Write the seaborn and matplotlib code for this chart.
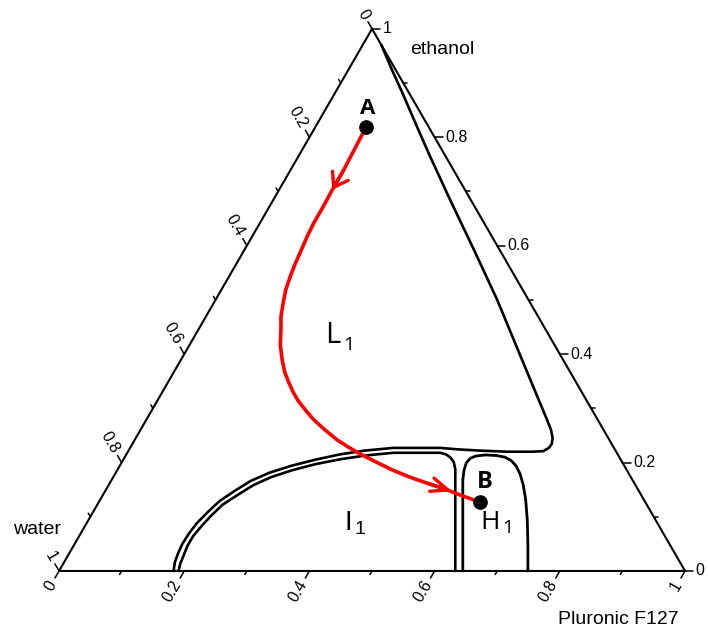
import numpy as np
import matplotlib
matplotlib.use("Agg")
import matplotlib.pyplot as plt
import seaborn as sns

# water is the rest: 1 - pluronic - ethanol

# L1 boundary: down the right side, round the nose, then the outer line of the I1 arc
l1_pluronic = [0.030, 0.070, 0.111, 0.159, 0.211, 0.283, 0.367, 0.450, 0.529, 0.609, 0.640,
               0.656, 0.666, 0.670, 0.669, 0.663, 0.647, 0.606, 0.562, 0.529, 0.495, 0.463,
               0.420, 0.377, 0.341, 0.306, 0.274, 0.245, 0.223, 0.207, 0.192, 0.183, 0.176,
               0.173, 0.172, 0.174, 0.177, 0.183]
l1_ethanol = [0.970, 0.924, 0.878, 0.823, 0.764, 0.684, 0.592, 0.500, 0.408, 0.315, 0.279,
              0.260, 0.245, 0.234, 0.227, 0.221, 0.220, 0.220, 0.222, 0.224, 0.227, 0.227,
              0.227, 0.222, 0.215, 0.205, 0.194, 0.181, 0.166, 0.148, 0.129, 0.108, 0.088,
              0.069, 0.050, 0.032, 0.016, 0.000]

# I1 boundary: inner line of the double arc, then straight down to the base
i1_pluronic = [0.191, 0.187, 0.185, 0.182, 0.182, 0.186, 0.192, 0.200, 0.215, 0.231, 0.252,
               0.280, 0.311, 0.346, 0.383, 0.425, 0.468, 0.500, 0.511, 0.521, 0.530, 0.539,
               0.549, 0.633]
i1_ethanol = [0.000, 0.013, 0.027, 0.046, 0.064, 0.082, 0.102, 0.122, 0.140, 0.158, 0.173,
              0.186, 0.197, 0.206, 0.213, 0.218, 0.218, 0.218, 0.215, 0.209, 0.201, 0.188,
              0.168, 0.000]

# H1 region
h1_pluronic = [0.645, 0.598, 0.561, 0.554, 0.551, 0.553, 0.560, 0.574, 0.592, 0.607, 0.620,
               0.633, 0.647, 0.662, 0.680, 0.701, 0.725, 0.749]
h1_ethanol = [0.000, 0.094, 0.168, 0.186, 0.199, 0.208, 0.212, 0.214, 0.213, 0.210, 0.204,
              0.194, 0.179, 0.159, 0.131, 0.094, 0.048, 0.000]

# red path from A to B
path_pluronic = [0.081, 0.083, 0.085, 0.085, 0.086, 0.086, 0.088, 0.091, 0.094, 0.098, 0.103,
                 0.111, 0.120, 0.132, 0.145, 0.162, 0.177, 0.192, 0.209, 0.225, 0.245, 0.266,
                 0.292, 0.323, 0.347, 0.373, 0.406, 0.440, 0.474, 0.507, 0.541, 0.574, 0.609]
path_ethanol = [0.819, 0.780, 0.738, 0.703, 0.671, 0.642, 0.616, 0.592, 0.566, 0.542, 0.518,
                0.494, 0.469, 0.445, 0.417, 0.389, 0.367, 0.349, 0.330, 0.314, 0.297, 0.280,
                0.262, 0.242, 0.229, 0.216, 0.201, 0.186, 0.173, 0.162, 0.151, 0.139, 0.127]

# arrowheads on the path: tail -> tip
arrow_tail_pluronic = [0.085, 0.507]
arrow_tail_ethanol = [0.738, 0.162]
arrow_tip_pluronic = [0.085, 0.554]
arrow_tip_ethanol = [0.703, 0.147]

point_names = ["A", "B"]
point_pluronic = [0.081, 0.609]
point_ethanol = [0.819, 0.127]

# phase labels
phase_main = ["L", "I", "H"]
phase_sub = ["1", "1", "1"]
phase_pluronic = [0.220, 0.418, 0.644]
phase_ethanol = [0.4335, 0.0885, 0.0895]

tick_values = [0.0, 0.1, 0.2, 0.3, 0.4, 0.5, 0.6, 0.7, 0.8, 0.9, 1.0]
label_values = [0.0, 0.2, 0.4, 0.6, 0.8, 1.0]
label_texts = ["0", "0.2", "0.4", "0.6", "0.8", "1"]

SQ = np.sqrt(3) / 2


def tern(p, e):
    p = np.asarray(p, dtype=float)
    e = np.asarray(e, dtype=float)
    return p + e / 2, e * SQ


sns.set_style("white")
plt.rcParams["font.family"] = ["Liberation Sans", "DejaVu Sans"]
plt.rcParams["text.color"] = "black"

fig = plt.figure(figsize=(7.08, 6.30), dpi=100)
ax = fig.add_axes([0, 0, 1, 1])
ax.set_xlim(-0.0943, 1.0367)
ax.set_ylim(-0.0943, 0.9121)
ax.axis("off")

# triangle frame
fx, fy = tern([0, 1, 0, 0], [0, 0, 1, 0])
ax.plot(fx, fy, color="black", lw=1.5, solid_joinstyle="miter")

# ticks and tick labels for the three axes
axes_def = [
    # (composition of tick point, direction, label offset, rotation, ha)
    (lambda t: (t, 0.0), (-0.5, -SQ), 0.020, 60, "right"),
    (lambda t: (1 - t, t), (1.0, 0.0), 0.017, 0, "left"),
    (lambda t: (0.0, 1 - t), (-0.5, SQ), 0.020, -60, "right"),
]
for where, d, off, rot, ha in axes_def:
    for t in tick_values:
        x0, y0 = tern(*where(t))
        major = any(abs(t - v) < 1e-6 for v in label_values)
        ln = 0.013 if major else 0.0065
        ax.plot([x0, x0 + d[0] * ln], [y0, y0 + d[1] * ln], color="black", lw=1.1)
    for v, s in zip(label_values, label_texts):
        x0, y0 = tern(*where(v))
        ax.text(x0 + d[0] * off, y0 + d[1] * off, s, fontsize=11.5, rotation=rot,
                rotation_mode="anchor", ha=ha, va="center")

# phase boundaries
for pp, ee, w in [(l1_pluronic, l1_ethanol, 1.9), (i1_pluronic, i1_ethanol, 1.9),
                  (h1_pluronic, h1_ethanol, 2.0)]:
    x, y = tern(pp, ee)
    sns.lineplot(x=x, y=y, sort=False, estimator=None, color="black", lw=w, ax=ax,
                 legend=False)

# red path with open arrowheads
x, y = tern(path_pluronic, path_ethanol)
sns.lineplot(x=x, y=y, sort=False, estimator=None, color="#ff0000", lw=2.6, ax=ax, legend=False)
heads = ["->,head_length=0.95,head_width=0.65", "->,head_length=1.2,head_width=0.5"]
tx, ty = tern(arrow_tail_pluronic, arrow_tail_ethanol)
hx, hy = tern(arrow_tip_pluronic, arrow_tip_ethanol)
for i in range(len(heads)):
    ax.annotate("", xy=(hx[i], hy[i]), xytext=(tx[i], ty[i]),
                arrowprops=dict(arrowstyle=heads[i], color="#ff0000", lw=2.4,
                                mutation_scale=10, shrinkA=0, shrinkB=0))

# points A and B
px_, py_ = tern(point_pluronic, point_ethanol)
sns.scatterplot(x=px_, y=py_, color="black", s=95, edgecolor="black", ax=ax, zorder=5,
                legend=False)
offsets = [(1, 13), (3.6, 14.5)]
sizes = [16, 17]
for i, nm in enumerate(point_names):
    ax.annotate(nm, xy=(px_[i], py_[i]), xytext=offsets[i], textcoords="offset points",
                ha="center", va="center", fontsize=sizes[i], fontweight="bold",
                family=["Open Sans", "DejaVu Sans"])

# phase names with subscripts
lx, ly = tern(phase_pluronic, phase_ethanol)
main_sizes = [21, 20, 19]
sub_offsets = [(11.9, -6.8), (8.3, -5.0), (12.6, -4.3)]
fams = [["Open Sans"], ["Liberation Sans"], ["Open Sans"]]
for i in range(3):
    ax.text(lx[i], ly[i], phase_main[i], fontsize=main_sizes[i], ha="center", va="center",
            family=fams[i])
    ax.annotate(phase_sub[i], xy=(lx[i], ly[i]), xytext=sub_offsets[i],
                textcoords="offset points", ha="center", va="center", fontsize=14,
                family=fams[i])

# component names next to the corners
cx, cy = tern([0, 1, 0], [0, 0, 1])
ax.annotate("ethanol", xy=(cx[2], cy[2]), xytext=(50.4, -15.1), textcoords="offset points",
            ha="center", va="center", fontsize=14)
ax.annotate("water", xy=(cx[0], cy[0]), xytext=(-15.8, 29.5), textcoords="offset points",
            ha="center", va="center", fontsize=14)
ax.annotate("Pluronic F127", xy=(cx[1], cy[1]), xytext=(-48.2, -35.3),
            textcoords="offset points", ha="center", va="center", fontsize=14)

fig.savefig("out.png", dpi=100)
